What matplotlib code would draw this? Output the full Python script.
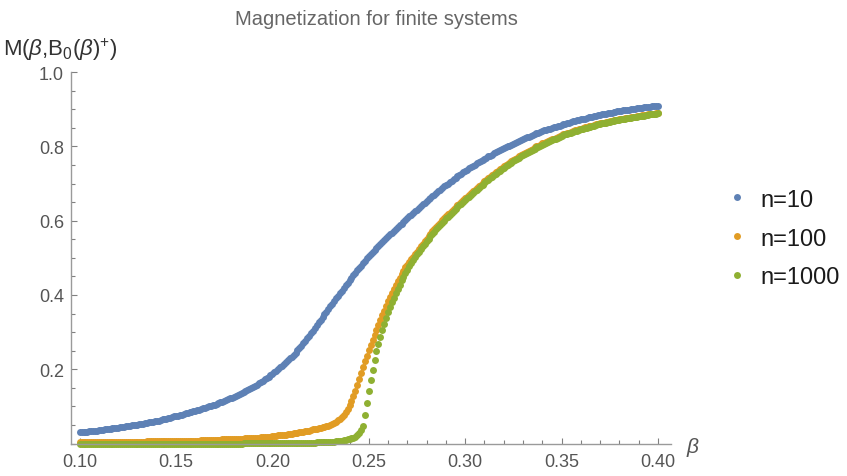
import matplotlib.pyplot as plt
import numpy as np
from matplotlib.ticker import MultipleLocator, FormatStrFormatter

plt.rcParams['font.family'] = ['Liberation Sans', 'DejaVu Sans']
plt.rcParams['mathtext.fontset'] = 'custom'
plt.rcParams['mathtext.rm'] = 'Liberation Sans'
plt.rcParams['mathtext.it'] = 'Liberation Sans:italic'

# beta grid, one dot every 0.001
beta = np.round(np.linspace(0.10, 0.40, 301), 3)

# values, row = 0.01 of beta
m_n10 = [
    0.030, 0.031, 0.031, 0.032, 0.032, 0.033, 0.034, 0.034, 0.035, 0.035,
    0.036, 0.037, 0.037, 0.038, 0.039, 0.039, 0.040, 0.041, 0.041, 0.042,
    0.043, 0.044, 0.045, 0.045, 0.046, 0.047, 0.048, 0.049, 0.049, 0.050,
    0.051, 0.052, 0.053, 0.054, 0.055, 0.056, 0.057, 0.058, 0.059, 0.060,
    0.061, 0.062, 0.063, 0.065, 0.066, 0.067, 0.069, 0.070, 0.071, 0.073,
    0.074, 0.075, 0.077, 0.078, 0.080, 0.081, 0.082, 0.084, 0.085, 0.087,
    0.088, 0.090, 0.091, 0.093, 0.095, 0.096, 0.098, 0.100, 0.101, 0.103,
    0.105, 0.107, 0.109, 0.111, 0.113, 0.115, 0.117, 0.119, 0.122, 0.124,
    0.126, 0.128, 0.131, 0.133, 0.136, 0.139, 0.141, 0.144, 0.147, 0.149,
    0.152, 0.155, 0.159, 0.162, 0.166, 0.169, 0.173, 0.177, 0.180, 0.184,
    0.188, 0.192, 0.196, 0.201, 0.205, 0.210, 0.214, 0.219, 0.224, 0.229,
    0.234, 0.239, 0.245, 0.251, 0.257, 0.263, 0.270, 0.276, 0.283, 0.290,
    0.297, 0.304, 0.311, 0.319, 0.326, 0.333, 0.341, 0.348, 0.355, 0.363,
    0.370, 0.377, 0.384, 0.391, 0.398, 0.405, 0.412, 0.419, 0.426, 0.433,
    0.440, 0.447, 0.453, 0.460, 0.466, 0.473, 0.479, 0.486, 0.492, 0.499,
    0.505, 0.510, 0.516, 0.521, 0.526, 0.532, 0.537, 0.542, 0.548, 0.553,
    0.558, 0.563, 0.568, 0.573, 0.578, 0.583, 0.588, 0.592, 0.597, 0.602,
    0.607, 0.612, 0.616, 0.621, 0.626, 0.630, 0.635, 0.639, 0.644, 0.648,
    0.653, 0.657, 0.662, 0.666, 0.670, 0.675, 0.679, 0.683, 0.687, 0.692,
    0.696, 0.700, 0.704, 0.707, 0.711, 0.715, 0.719, 0.723, 0.726, 0.730,
    0.734, 0.737, 0.741, 0.744, 0.747, 0.751, 0.754, 0.757, 0.760, 0.764,
    0.767, 0.770, 0.773, 0.775, 0.778, 0.781, 0.784, 0.787, 0.789, 0.792,
    0.795, 0.797, 0.800, 0.802, 0.805, 0.807, 0.810, 0.812, 0.815, 0.817,
    0.820, 0.822, 0.824, 0.826, 0.828, 0.830, 0.833, 0.835, 0.837, 0.839,
    0.841, 0.843, 0.844, 0.846, 0.848, 0.850, 0.851, 0.853, 0.855, 0.856,
    0.858, 0.859, 0.861, 0.862, 0.864, 0.865, 0.867, 0.868, 0.870, 0.871,
    0.873, 0.874, 0.875, 0.876, 0.878, 0.879, 0.880, 0.881, 0.882, 0.884,
    0.885, 0.886, 0.887, 0.888, 0.889, 0.890, 0.891, 0.892, 0.893, 0.894,
    0.895, 0.896, 0.897, 0.897, 0.898, 0.899, 0.900, 0.901, 0.901, 0.902,
    0.903, 0.904, 0.904, 0.905, 0.906, 0.906, 0.907, 0.908, 0.908, 0.909,
    0.910,
]

m_n100 = [
    0.004, 0.004, 0.004, 0.004, 0.004, 0.004, 0.004, 0.004, 0.004, 0.004,
    0.004, 0.004, 0.004, 0.004, 0.004, 0.005, 0.005, 0.005, 0.005, 0.005,
    0.005, 0.005, 0.005, 0.005, 0.005, 0.005, 0.005, 0.005, 0.005, 0.005,
    0.005, 0.005, 0.005, 0.005, 0.005, 0.006, 0.006, 0.006, 0.006, 0.006,
    0.006, 0.006, 0.006, 0.006, 0.006, 0.007, 0.007, 0.007, 0.007, 0.007,
    0.007, 0.007, 0.007, 0.007, 0.007, 0.008, 0.008, 0.008, 0.008, 0.008,
    0.008, 0.008, 0.008, 0.009, 0.009, 0.009, 0.009, 0.009, 0.010, 0.010,
    0.010, 0.010, 0.010, 0.010, 0.011, 0.011, 0.011, 0.011, 0.012, 0.012,
    0.012, 0.012, 0.013, 0.013, 0.013, 0.013, 0.014, 0.014, 0.014, 0.015,
    0.015, 0.015, 0.016, 0.016, 0.017, 0.017, 0.018, 0.018, 0.019, 0.019,
    0.020, 0.020, 0.021, 0.022, 0.022, 0.023, 0.024, 0.024, 0.025, 0.026,
    0.027, 0.028, 0.028, 0.029, 0.030, 0.031, 0.032, 0.033, 0.034, 0.035,
    0.037, 0.038, 0.039, 0.040, 0.041, 0.043, 0.044, 0.045, 0.047, 0.048,
    0.050, 0.053, 0.056, 0.059, 0.063, 0.067, 0.072, 0.078, 0.085, 0.093,
    0.103, 0.114, 0.127, 0.141, 0.157, 0.173, 0.189, 0.205, 0.221, 0.237,
    0.252, 0.266, 0.280, 0.293, 0.306, 0.319, 0.332, 0.345, 0.358, 0.371,
    0.383, 0.395, 0.406, 0.417, 0.428, 0.438, 0.447, 0.456, 0.465, 0.474,
    0.482, 0.489, 0.496, 0.503, 0.510, 0.517, 0.524, 0.531, 0.538, 0.545,
    0.552, 0.558, 0.565, 0.571, 0.577, 0.583, 0.589, 0.595, 0.601, 0.607,
    0.612, 0.617, 0.622, 0.627, 0.632, 0.637, 0.641, 0.646, 0.650, 0.655,
    0.660, 0.665, 0.669, 0.674, 0.679, 0.683, 0.688, 0.692, 0.697, 0.701,
    0.706, 0.710, 0.714, 0.718, 0.722, 0.726, 0.730, 0.734, 0.738, 0.742,
    0.746, 0.749, 0.753, 0.756, 0.760, 0.763, 0.766, 0.770, 0.773, 0.777,
    0.780, 0.783, 0.786, 0.788, 0.791, 0.794, 0.797, 0.800, 0.802, 0.805,
    0.808, 0.810, 0.812, 0.815, 0.817, 0.819, 0.821, 0.823, 0.826, 0.828,
    0.830, 0.832, 0.834, 0.835, 0.837, 0.839, 0.841, 0.843, 0.844, 0.846,
    0.848, 0.849, 0.851, 0.852, 0.854, 0.855, 0.856, 0.858, 0.859, 0.861,
    0.862, 0.863, 0.864, 0.865, 0.866, 0.867, 0.869, 0.870, 0.871, 0.872,
    0.873, 0.874, 0.875, 0.876, 0.877, 0.877, 0.878, 0.879, 0.880, 0.881,
    0.882, 0.883, 0.884, 0.884, 0.885, 0.886, 0.887, 0.888, 0.888, 0.889,
    0.890,
]

m_n1000 = [
    0.000, 0.000, 0.000, 0.000, 0.000, 0.000, 0.000, 0.000, 0.000, 0.000,
    0.000, 0.000, 0.000, 0.000, 0.000, 0.000, 0.000, 0.000, 0.000, 0.000,
    0.000, 0.000, 0.000, 0.000, 0.000, 0.000, 0.000, 0.000, 0.000, 0.000,
    0.000, 0.000, 0.000, 0.000, 0.000, 0.000, 0.000, 0.000, 0.000, 0.000,
    0.000, 0.000, 0.000, 0.000, 0.000, 0.000, 0.000, 0.000, 0.000, 0.000,
    0.000, 0.000, 0.000, 0.000, 0.000, 0.000, 0.000, 0.000, 0.000, 0.000,
    0.000, 0.000, 0.000, 0.000, 0.000, 0.000, 0.000, 0.000, 0.000, 0.000,
    0.000, 0.000, 0.000, 0.000, 0.000, 0.000, 0.000, 0.000, 0.000, 0.000,
    0.000, 0.000, 0.000, 0.000, 0.000, 0.001, 0.001, 0.001, 0.001, 0.001,
    0.001, 0.001, 0.001, 0.001, 0.001, 0.001, 0.001, 0.001, 0.001, 0.001,
    0.001, 0.001, 0.001, 0.001, 0.001, 0.001, 0.001, 0.001, 0.001, 0.001,
    0.001, 0.001, 0.001, 0.001, 0.001, 0.002, 0.002, 0.002, 0.002, 0.002,
    0.002, 0.002, 0.002, 0.003, 0.003, 0.003, 0.003, 0.003, 0.004, 0.004,
    0.004, 0.005, 0.005, 0.006, 0.006, 0.007, 0.008, 0.009, 0.010, 0.011,
    0.012, 0.014, 0.016, 0.019, 0.023, 0.028, 0.036, 0.048, 0.077, 0.109,
    0.142, 0.172, 0.199, 0.225, 0.248, 0.268, 0.287, 0.305, 0.322, 0.338,
    0.353, 0.367, 0.380, 0.393, 0.405, 0.417, 0.428, 0.439, 0.449, 0.459,
    0.468, 0.477, 0.485, 0.493, 0.501, 0.509, 0.516, 0.524, 0.531, 0.538,
    0.545, 0.551, 0.558, 0.564, 0.570, 0.577, 0.583, 0.589, 0.595, 0.600,
    0.606, 0.611, 0.616, 0.622, 0.627, 0.632, 0.636, 0.641, 0.646, 0.650,
    0.655, 0.660, 0.665, 0.669, 0.674, 0.679, 0.683, 0.688, 0.693, 0.697,
    0.702, 0.706, 0.710, 0.714, 0.718, 0.722, 0.726, 0.730, 0.734, 0.738,
    0.742, 0.746, 0.749, 0.753, 0.756, 0.760, 0.763, 0.767, 0.770, 0.774,
    0.777, 0.780, 0.783, 0.785, 0.788, 0.791, 0.794, 0.797, 0.799, 0.802,
    0.805, 0.807, 0.810, 0.812, 0.814, 0.816, 0.819, 0.821, 0.823, 0.826,
    0.828, 0.830, 0.832, 0.833, 0.835, 0.837, 0.839, 0.841, 0.842, 0.844,
    0.846, 0.847, 0.849, 0.850, 0.852, 0.853, 0.855, 0.856, 0.858, 0.859,
    0.861, 0.862, 0.863, 0.864, 0.865, 0.866, 0.868, 0.869, 0.870, 0.871,
    0.872, 0.873, 0.874, 0.875, 0.876, 0.876, 0.877, 0.878, 0.879, 0.880,
    0.881, 0.882, 0.883, 0.883, 0.884, 0.885, 0.886, 0.887, 0.887, 0.888,
    0.889,
]

labels = ["n=10", "n=100", "n=1000"]
colors = ["#5E81B5", "#E19C24", "#8FB032"]
xticks = [0.10, 0.15, 0.20, 0.25, 0.30, 0.35, 0.40]
yticks = [0.2, 0.4, 0.6, 0.8, 1.0]

W, H = 847, 477
fig = plt.figure(figsize=(W / 100, H / 100), dpi=100)
ax = fig.add_axes([71 / W, 0.0602, 600 / W, 0.8468 - 0.0602])

for vals, lab, col in zip([m_n10, m_n100, m_n1000], labels, colors):
    ax.plot(beta, vals, "o", ms=5.0, mew=0, color=col, label=lab, clip_on=False)

ax.set_xlim(0.0955, 0.4068)
ax.set_ylim(-0.01, 1.0)

# Mathematica-like axes
for s in ["top", "right"]:
    ax.spines[s].set_visible(False)
ax.spines["bottom"].set_position(("data", 0))
ax.spines["left"].set_bounds(0, 1.0)
for s in ["bottom", "left"]:
    ax.spines[s].set_color("#9a9a9a")
    ax.spines[s].set_linewidth(1.0)

ax.set_xticks(xticks)
ax.xaxis.set_major_formatter(FormatStrFormatter("%.2f"))
ax.xaxis.set_minor_locator(MultipleLocator(0.01))
ax.set_yticks(yticks)
ax.yaxis.set_major_formatter(FormatStrFormatter("%.1f"))
ax.yaxis.set_minor_locator(MultipleLocator(0.05))
ax.tick_params(which="both", direction="in", color="#808080", width=0.8)
ax.tick_params(which="major", length=4.5, labelsize=13, labelcolor="#555555")
ax.tick_params(which="minor", length=2.8)
ax.tick_params(axis="x", which="major", pad=7)
ax.tick_params(axis="y", which="major", pad=5)

fig.text(376 / W, 1 - 25 / H, "Magnetization for finite systems",
         ha="center", va="baseline", fontsize=14.5, color="#666666")
fig.text(3 / W, 1 - 56 / H, r"M($\beta$,B$_0$($\beta$)$^{+}$)",
         ha="left", va="baseline", fontsize=16, color="#333333")
fig.text(686 / W, 1 - 453 / H, r"$\beta$",
         ha="left", va="baseline", fontsize=15, color="#555555")

ax.legend(loc="center left", bbox_to_anchor=(731 / W, 1 - 239.5 / H),
          bbox_transform=fig.transFigure, frameon=False, fontsize=17,
          handlelength=0.5, handletextpad=0.75, labelspacing=0.71,
          borderpad=0, borderaxespad=0, markerscale=1.0,
          labelcolor="#1a1a1a")

fig.savefig("out.png", dpi=100)
